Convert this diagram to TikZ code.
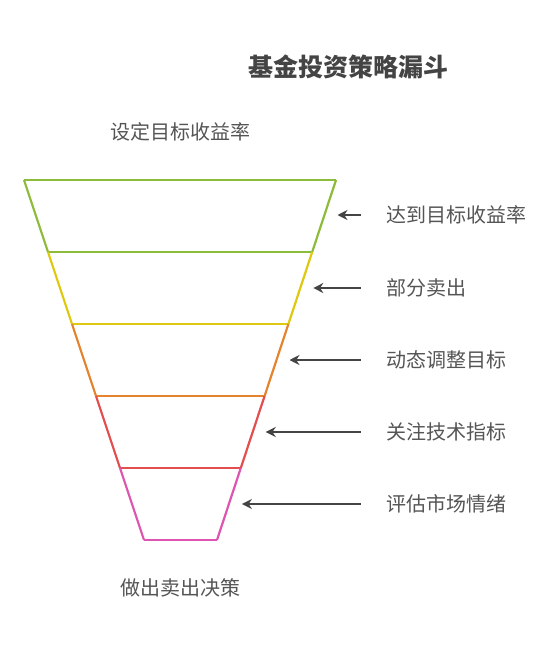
\documentclass[tikz,border=0pt]{standalone}
\usepackage{fontspec}
\usepackage{tikz}
\usetikzlibrary{arrows.meta}
\setmainfont{Noto Sans CJK SC}
\definecolor{fgreen}{HTML}{8DBB3A}
\definecolor{fyellow}{HTML}{DFC810}
\definecolor{forange}{HTML}{E5832F}
\definecolor{fred}{HTML}{E34F4F}
\definecolor{fpink}{HTML}{DD55AE}
\definecolor{txtgray}{HTML}{555555}
\definecolor{ttlgray}{HTML}{444444}
\tikzset{
  funnel/.style={line width=2.2pt, line join=round},
  lbl/.style={anchor=west, inner sep=0pt, text=txtgray, font=\fontsize{20}{20}\selectfont},
  captxt/.style={inner sep=0pt, text=txtgray, font=\fontsize{20}{20}\selectfont},
  pointer/.style={draw=ttlgray, line width=2.4pt, -{Stealth[length=10pt,width=10pt]}, shorten <=25pt}
}

\begin{document}
\begin{tikzpicture}[x=1pt,y=-1pt]
\useasboundingbox (0,0) rectangle (553,648);

\node[inner sep=0pt, text=ttlgray, font=\fontsize{25}{25}\selectfont\bfseries] (title) at (348,67) {基金投资策略漏斗};
\node[captxt] (top) at (180,132) {设定目标收益率};
\node[captxt] (bottom) at (180,588) {做出卖出决策};

\draw[funnel, fgreen] (24,180)--(336,180);
\draw[funnel, fgreen] (24,180)--(48,252);
\draw[funnel, fgreen] (336,180)--(312.2,252);
\draw[funnel, fgreen] (48,252)--(312.2,252);
\draw[funnel, fyellow] (48,252)--(72,324);
\draw[funnel, fyellow] (312.2,252)--(288.4,324);
\draw[funnel, fyellow] (72,324)--(288.4,324);
\draw[funnel, forange] (72,324)--(96,396);
\draw[funnel, forange] (288.4,324)--(264.6,396);
\draw[funnel, forange] (96,396)--(264.6,396);
\draw[funnel, fred] (96,396)--(120,468);
\draw[funnel, fred] (264.6,396)--(240.8,468);
\draw[funnel, fred] (120,468)--(240.8,468);
\draw[funnel, fpink] (120,468)--(144,540);
\draw[funnel, fpink] (240.8,468)--(217,540);
\draw[funnel, fpink] (144,540)--(217,540);

\coordinate (t1) at (337.5,215);
\coordinate (t2) at (313.3,288);
\coordinate (t3) at (289.5,360);
\coordinate (t4) at (265.7,432);
\coordinate (t5) at (241.9,504);

\node[lbl] (l1) at (386,215) {达到目标收益率};
\node[lbl] (l2) at (386,288) {部分卖出};
\node[lbl] (l3) at (386,360) {动态调整目标};
\node[lbl] (l4) at (386,432) {关注技术指标};
\node[lbl] (l5) at (386,504) {评估市场情绪};

\draw[pointer] (l1.west) -- (t1);
\draw[pointer] (l2.west) -- (t2);
\draw[pointer] (l3.west) -- (t3);
\draw[pointer] (l4.west) -- (t4);
\draw[pointer] (l5.west) -- (t5);

\end{tikzpicture}
\end{document}
